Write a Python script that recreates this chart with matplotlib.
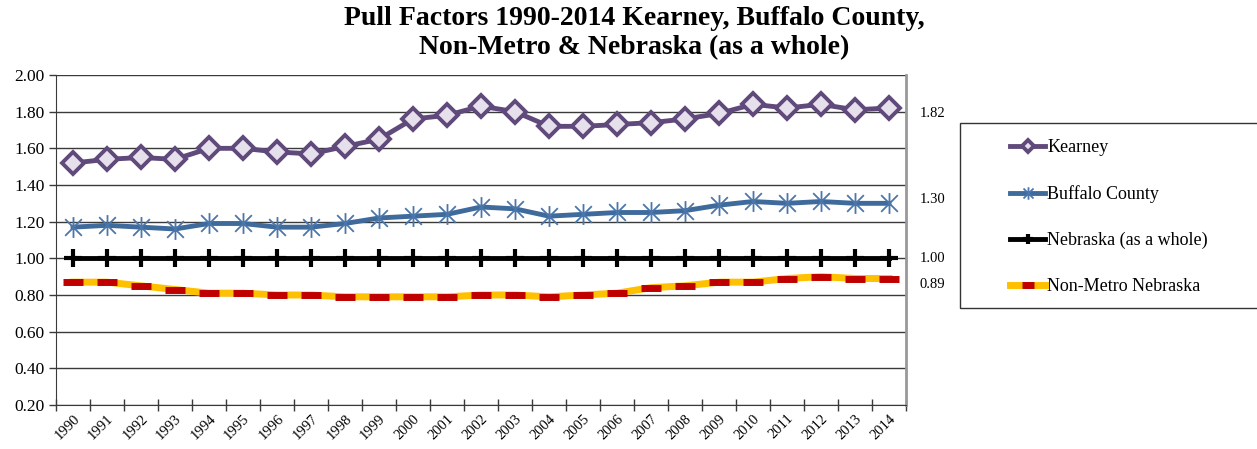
"""
Pull factors 1990-2014: Kearney, Buffalo County, Non-Metro and Nebraska.
"""
import matplotlib
matplotlib.use('Agg')
import matplotlib.pyplot as plt
from matplotlib.path import Path
from matplotlib.patches import Rectangle
import numpy as np

matplotlib.rcParams.update({
    'font.family': 'serif',
    'font.serif':  ['Liberation Serif', 'DejaVu Serif'],
})

# ── Data ──────────────────────────────────────────────────────────────────────
years = [str(y) for y in range(1990, 2015)]

kearney = [1.52, 1.54, 1.55, 1.54, 1.60, 1.60, 1.58, 1.57, 1.61, 1.65,
           1.76, 1.78, 1.83, 1.80, 1.72, 1.72, 1.73, 1.74, 1.76, 1.79,
           1.84, 1.82, 1.84, 1.81, 1.82]
buffalo = [1.17, 1.18, 1.17, 1.16, 1.19, 1.19, 1.17, 1.17, 1.19, 1.22,
           1.23, 1.24, 1.28, 1.27, 1.23, 1.24, 1.25, 1.25, 1.26, 1.29,
           1.31, 1.30, 1.31, 1.30, 1.30]
nebraska = [1.00] * 25
nonmetro = [0.87, 0.87, 0.85, 0.83, 0.81, 0.81, 0.80, 0.80, 0.79, 0.79,
            0.79, 0.79, 0.80, 0.80, 0.79, 0.80, 0.81, 0.84, 0.85, 0.87,
            0.87, 0.89, 0.90, 0.89, 0.89]

series_names = ['Kearney', 'Buffalo County', 'Nebraska (as a whole)',
                'Non-Metro Nebraska']

# asterisk marker: vertical bar plus an X
star = Path([(0, -1), (0, 1), (-0.8, -0.8), (0.8, 0.8), (-0.8, 0.8), (0.8, -0.8)],
            [Path.MOVETO, Path.LINETO] * 3)

# ── Figure ────────────────────────────────────────────────────────────────────
W, H = 1257, 449
fig = plt.figure(figsize=(W / 100, H / 100), dpi=100)
fig.patch.set_facecolor('white')
ax = fig.add_axes([56 / W, 1 - 405 / H, 850 / W, 330 / H])

x = np.arange(len(years))

l1, = ax.plot(x, kearney, color='#604A7B', lw=3.5, marker='D', ms=11,
              mfc='#E6E0EC', mec='#604A7B', mew=2.8, zorder=5)
l2, = ax.plot(x, buffalo, color='#3E6A9C', lw=3.5, marker=star, ms=15,
              mfc='none', mec='#4A76AB', mew=1.3, zorder=4)
l3, = ax.plot(x, nebraska, color='black', lw=3.5, marker='+', ms=13,
              mew=3, mec='black', zorder=4)
l4, = ax.plot(x, nonmetro, color='#FFC000', lw=5, marker='_', ms=15,
              mew=5, mec='#C00000', zorder=4)

# value labels at the right edge
for vals, dy in [(kearney, -4), (buffalo, 3), (nebraska, 0), (nonmetro, -4)]:
    ax.annotate(f'{vals[-1]:.2f}', xy=(1, vals[-1]), xycoords=('axes fraction', 'data'),
                xytext=(10, dy), textcoords='offset points',
                ha='left', va='center', fontsize=10.5)

# ── Axes ──────────────────────────────────────────────────────────────────────
ax.set_xlim(-0.5, len(years) - 0.5)
ax.set_ylim(0.2, 2.0)
ax.set_yticks(np.arange(0.2, 2.01, 0.2))
ax.set_yticklabels([f'{v:.2f}' for v in np.arange(0.2, 2.01, 0.2)], fontsize=12.5)
ax.yaxis.grid(True, color='#3A3A3A', lw=1.0, zorder=0)
ax.tick_params(axis='y', direction='out', length=5, width=1, color='#3A3A3A', pad=3)

ax.set_xticks(np.arange(-0.5, len(years)), minor=False)
ax.set_xticklabels([])
ax.set_xticks(x, minor=True)
ax.set_xticklabels(years, minor=True, rotation=45, ha='right',
                   rotation_mode='anchor', fontsize=10.5)
ax.tick_params(axis='x', which='major', direction='inout', length=8,
               width=1, color='#3A3A3A')
ax.tick_params(axis='x', which='minor', length=0, pad=5)

ax.spines['top'].set_visible(False)
ax.spines['left'].set_color('#3A3A3A')
ax.spines['bottom'].set_color('#3A3A3A')
ax.spines['right'].set_color('#999999')
ax.spines['right'].set_linewidth(2)

# ── Title ─────────────────────────────────────────────────────────────────────
fig.text(634 / W, 1 - 6 / H,
         'Pull Factors 1990-2014 Kearney, Buffalo County,\n'
         'Non-Metro & Nebraska (as a whole)',
         ha='center', va='top', fontsize=20, fontweight='bold',
         linespacing=1.2)

# ── Legend ────────────────────────────────────────────────────────────────────
fig.patches.append(Rectangle((960 / W, 1 - 308 / H), 400 / W, 185 / H,
                             transform=fig.transFigure, fill=False,
                             edgecolor='#333333', lw=1))
fig.legend([l1, l2, l3, l4], series_names, loc='upper left',
           bbox_to_anchor=(994 / W, 1 - 123 / H), frameon=False,
           fontsize=13, labelspacing=1.6, handlelength=1.95,
           handletextpad=0.1, markerscale=0.6)

fig.savefig('out.png', dpi=100, facecolor='white')
